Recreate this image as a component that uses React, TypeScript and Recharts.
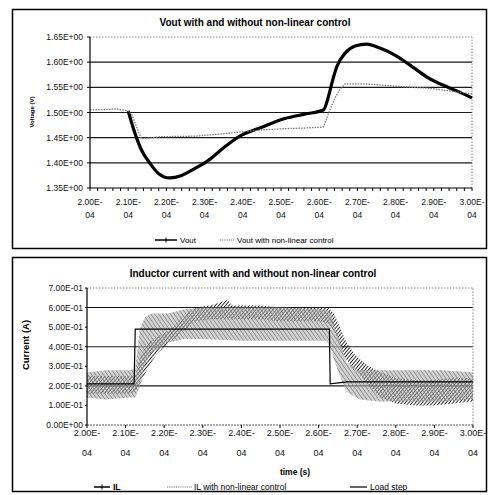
import { Area, CartesianGrid, ComposedChart, Line, ReferenceLine, XAxis, YAxis } from "recharts";

// top chart: output voltage (time in microseconds)
const VOUT_TIME = [210, 211.8, 213.5, 215.7, 217.9, 220.9, 224, 227.5, 231, 235.3, 239.7, 244.1, 251, 256.4, 261.1, 262.4, 263.3, 264.6, 266.8, 269.4, 272.4, 275.9, 279.8, 283.8, 288.1, 292.5, 296, 300];
const VOUT_VALUES = [1.503, 1.458, 1.425, 1.399, 1.379, 1.37, 1.375, 1.389, 1.405, 1.432, 1.455, 1.468, 1.488, 1.497, 1.505, 1.531, 1.558, 1.591, 1.618, 1.632, 1.636, 1.628, 1.614, 1.594, 1.571, 1.554, 1.543, 1.529];
const VOUT_NL_TIME = [200, 204, 207, 210, 211, 212.5, 213.5, 218.8, 227.5, 235.3, 244.1, 251, 256, 261.1, 262.8, 264.2, 265.4, 266.8, 272, 280.3, 289, 296, 300];
const VOUT_NL_VALUES = [1.505, 1.506, 1.507, 1.503, 1.495, 1.465, 1.448, 1.452, 1.453, 1.458, 1.465, 1.468, 1.469, 1.471, 1.505, 1.53, 1.545, 1.557, 1.557, 1.552, 1.548, 1.541, 1.537];
const VOLT_TICKS = [1.35, 1.4, 1.45, 1.5, 1.55, 1.6, 1.65];
const VOLT_GRID = [1.4, 1.45, 1.5, 1.55, 1.6];

// bottom chart: inductor current ripple envelopes (low / high) and load step
const IL_TIME = [200, 205, 211, 212.5, 214, 216, 218, 220, 222, 225, 228, 232, 236.5, 237.5, 240, 245, 250, 255, 260, 262.5, 264, 265.5, 267, 269, 271, 273, 276, 280, 285, 290, 295, 300];
const IL_LOW = [0.16, 0.16, 0.16, 0.17, 0.22, 0.3, 0.36, 0.4, 0.43, 0.48, 0.53, 0.54, 0.54, 0.54, 0.54, 0.54, 0.53, 0.53, 0.53, 0.52, 0.48, 0.4, 0.34, 0.29, 0.25, 0.2, 0.14, 0.11, 0.1, 0.1, 0.11, 0.12];
const IL_HIGH = [0.25, 0.25, 0.25, 0.25, 0.36, 0.42, 0.45, 0.47, 0.49, 0.56, 0.6, 0.61, 0.64, 0.61, 0.61, 0.61, 0.6, 0.6, 0.6, 0.6, 0.57, 0.5, 0.43, 0.37, 0.33, 0.3, 0.27, 0.24, 0.23, 0.23, 0.24, 0.24];
const IL_NL_TIME = [200, 205, 211, 212.5, 213.7, 215, 216.7, 221, 225, 230, 240, 250, 262, 263, 264.2, 265.5, 267.2, 270.7, 276, 285, 292, 300];
const IL_NL_LOW = [0.14, 0.13, 0.14, 0.14, 0.2, 0.31, 0.37, 0.42, 0.44, 0.44, 0.43, 0.43, 0.43, 0.4, 0.32, 0.25, 0.17, 0.13, 0.12, 0.12, 0.12, 0.13];
const IL_NL_HIGH = [0.27, 0.28, 0.28, 0.29, 0.49, 0.55, 0.57, 0.57, 0.59, 0.6, 0.6, 0.6, 0.59, 0.58, 0.5, 0.43, 0.32, 0.28, 0.28, 0.28, 0.28, 0.27];
const LOAD_TIME = [200, 212.2, 212.5, 262.8, 263, 267.4, 300];
const LOAD_VALUES = [0.21, 0.21, 0.49, 0.49, 0.21, 0.22, 0.22];
const AMP_TICKS = [0, 0.1, 0.2, 0.3, 0.4, 0.5, 0.6, 0.7];
const AMP_GRID = [0.1, 0.2, 0.3, 0.4, 0.5, 0.6];

const TIME_LABELS = [200, 210, 220, 230, 240, 250, 260, 270, 280, 290, 300];
const MINOR_TICKS = Array.from({ length: 51 }, (_, i) => 200 + i * 2);

const FONT = '"Liberation Sans", Arial, sans-serif';

const voutData = VOUT_TIME.map((t, i) => ({ t, v: VOUT_VALUES[i] }));
const voutNlData = VOUT_NL_TIME.map((t, i) => ({ t, v: VOUT_NL_VALUES[i] }));
const ilData = IL_TIME.map((t, i) => ({ t, range: [IL_LOW[i], IL_HIGH[i]] }));
const ilNlData = IL_NL_TIME.map((t, i) => ({ t, range: [IL_NL_LOW[i], IL_NL_HIGH[i]] }));
const loadData = LOAD_TIME.map((t, i) => ({ t, v: LOAD_VALUES[i] }));

function TimeTick(props: any) {
  const { x, y, payload, fontSize, gap, shift } = props;
  const v = payload.value;
  if (!TIME_LABELS.includes(v)) return <g />;
  return (
    <text x={x} y={y + shift} textAnchor="middle" fontSize={fontSize} fontFamily={FONT} fill="#111">
      <tspan x={x} dy="0.71em">{(v / 100).toFixed(2)}E-</tspan>
      <tspan x={x} dy={gap}>04</tspan>
    </text>
  );
}

function formatVolt(v: number) {
  return `${v.toFixed(2)}E+00`;
}

function formatAmp(v: number) {
  return v === 0 ? "0.00E+00" : `${(v * 10).toFixed(2)}E-01`;
}

export default function App() {
  return (
    <div style={{ position: "absolute", left: 0, top: 0, width: 488, height: 495, background: "#fff", fontFamily: FONT }}>
      <div style={{ position: "absolute", left: 0, top: 0 }}>
        <ComposedChart width={488} height={250} margin={{ top: 37, right: 16, bottom: 22, left: 34 }}>
          <CartesianGrid vertical={false} horizontalValues={VOLT_GRID} stroke="#1a1a1a" strokeWidth={1.1} />
          <XAxis
            dataKey="t"
            type="number"
            domain={[200, 300]}
            ticks={MINOR_TICKS}
            interval={0}
            height={40}
            axisLine={{ stroke: "#000", strokeWidth: 1.2 }}
            tickLine={{ stroke: "#000" }}
            tickSize={3}
            tick={(p: any) => <TimeTick {...p} fontSize={8.5} gap={13} shift={6} />}
          />
          <YAxis
            type="number"
            domain={[1.35, 1.65]}
            ticks={VOLT_TICKS}
            width={56}
            axisLine={{ stroke: "#000", strokeWidth: 1.2 }}
            tickLine={{ stroke: "#000" }}
            tickSize={3}
            tickMargin={4}
            tickFormatter={formatVolt}
            tick={{ fontSize: 8.5, fill: "#111", fontFamily: FONT }}
          />
          <ReferenceLine y={1.65} stroke="#888" strokeDasharray="1.5 1.5" />
          <ReferenceLine x={300} stroke="#888" strokeDasharray="1.5 1.5" />
          <Line data={voutData} dataKey="v" type="monotone" stroke="#000" strokeWidth={3.2} dot={false} isAnimationActive={false} />
          <Line data={voutNlData} dataKey="v" type="linear" stroke="#777" strokeWidth={1.3} strokeDasharray="1.5 1.2" dot={false} isAnimationActive={false} />
        </ComposedChart>
      </div>

      <div style={{ position: "absolute", left: 0, top: 250 }}>
        <ComposedChart width={488} height={245} margin={{ top: 38, right: 15, bottom: 15, left: 27 }}>
          <defs>
            <pattern id="ilHatch" width="2.6" height="2.6" patternUnits="userSpaceOnUse" patternTransform="rotate(40)">
              <line x1="0" y1="0" x2="0" y2="2.6" stroke="#000" strokeWidth="1.6" />
            </pattern>
            <pattern id="nlSpeckle" width="3.2" height="3.2" patternUnits="userSpaceOnUse" patternTransform="rotate(-35)">
              <rect width="3.2" height="3.2" fill="#b4b4b4" fillOpacity="0.6" />
              <line x1="0" y1="0" x2="0" y2="3.2" stroke="#6e6e6e" strokeWidth="1.2" />
            </pattern>
          </defs>
          <CartesianGrid vertical={false} horizontalValues={AMP_GRID} stroke="#1a1a1a" strokeWidth={1.1} />
          <XAxis
            dataKey="t"
            type="number"
            domain={[200, 300]}
            ticks={TIME_LABELS}
            interval={0}
            height={55}
            axisLine={{ stroke: "#555", strokeDasharray: "2 1" }}
            tickLine={{ stroke: "#000" }}
            tickSize={3}
            tick={(p: any) => <TimeTick {...p} fontSize={9} gap={20} shift={0} />}
          />
          <YAxis
            type="number"
            domain={[0, 0.7]}
            ticks={AMP_TICKS}
            width={60}
            axisLine={{ stroke: "#000", strokeWidth: 1.2 }}
            tickLine={{ stroke: "#000" }}
            tickSize={2}
            tickMargin={2}
            tickFormatter={formatAmp}
            tick={{ fontSize: 8.5, fill: "#111", fontFamily: FONT }}
          />
          <ReferenceLine y={0.7} stroke="#888" strokeDasharray="1.5 1.5" />
          <ReferenceLine x={300} stroke="#888" strokeDasharray="1.5 1.5" />
          <Area data={ilData} dataKey="range" type="linear" stroke="none" fill="url(#ilHatch)" fillOpacity={1} isAnimationActive={false} />
          <Area data={ilNlData} dataKey="range" type="linear" stroke="none" fill="url(#nlSpeckle)" fillOpacity={1} isAnimationActive={false} />
          <Line data={loadData} dataKey="v" type="linear" stroke="#000" strokeWidth={1.2} dot={false} isAnimationActive={false} />
        </ComposedChart>
      </div>

      <svg width={488} height={495} style={{ position: "absolute", left: 0, top: 0, pointerEvents: "none" }} fontFamily={FONT}>
        <rect x={12.5} y={9.5} width={474} height={239} fill="none" stroke="#000" strokeWidth={1.5} />
        <rect x={12.5} y={257.5} width={474} height={234} fill="none" stroke="#000" strokeWidth={1.5} />

        <text x={255} y={26} textAnchor="middle" fontSize={10} fontWeight="bold" fill="#000">Vout with and without non-linear control</text>
        <text transform="translate(32,112) rotate(-90)" textAnchor="middle" dominantBaseline="central" fontSize={6} fontWeight="bold" fill="#000">Voltage (V)</text>
        <line x1={155} y1={240} x2={177} y2={240} stroke="#000" strokeWidth={1.5} />
        <line x1={166} y1={237.5} x2={166} y2={242.5} stroke="#000" strokeWidth={1} />
        <text x={180} y={243} fontSize={8} fill="#000">Vout</text>
        <line x1={220} y1={240} x2={234} y2={240} stroke="#777" strokeWidth={1.2} strokeDasharray="1.2 1" />
        <text x={237} y={243} fontSize={8} fill="#000">Vout with non-linear control</text>

        <text x={253} y={277} textAnchor="middle" fontSize={10} fontWeight="bold" fill="#000">Inductor current with and without non-linear control</text>
        <text transform="translate(25,345) rotate(-90)" textAnchor="middle" dominantBaseline="central" fontSize={9.5} fontWeight="bold" fill="#000">Current (A)</text>
        <text x={295} y={475} textAnchor="middle" fontSize={8.5} fontWeight="bold" fill="#000">time (s)</text>
        <line x1={94} y1={487} x2={110} y2={487} stroke="#000" strokeWidth={1.5} />
        <line x1={102} y1={484.5} x2={102} y2={489.5} stroke="#000" strokeWidth={1} />
        <text x={113} y={490} fontSize={8.5} fontWeight="bold" fill="#000">IL</text>
        <line x1={167} y1={487} x2={192} y2={487} stroke="#777" strokeWidth={1.2} strokeDasharray="1.2 1" />
        <text x={194} y={490} fontSize={8.5} fill="#000">IL with non-linear control</text>
        <line x1={350} y1={487} x2={367} y2={487} stroke="#000" strokeWidth={1.2} />
        <text x={370} y={490} fontSize={8.5} fill="#000">Load step</text>
      </svg>
    </div>
  );
}
